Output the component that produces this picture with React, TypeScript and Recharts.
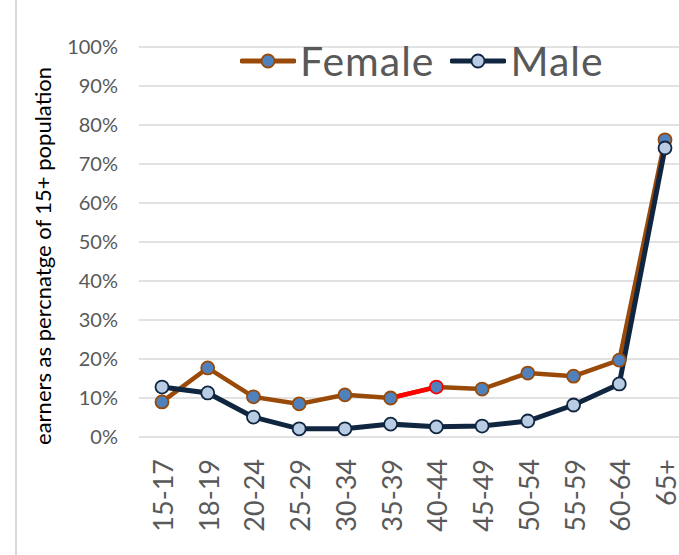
import { LineChart, Line, XAxis, YAxis, CartesianGrid } from 'recharts';

const categories = ['15-17', '18-19', '20-24', '25-29', '30-34', '35-39', '40-44', '45-49', '50-54', '55-59', '60-64', '65+'];
const femaleValues = [9.0, 17.7, 10.3, 8.5, 10.8, 10.0, 12.8, 12.3, 16.4, 15.6, 19.7, 76.2];
const maleValues = [12.8, 11.3, 5.1, 2.1, 2.1, 3.3, 2.6, 2.8, 4.1, 8.2, 13.6, 74.1];
// segment of the female line drawn in red
const highlightCategories = ['35-39', '40-44'];
const yTicks = [0, 10, 20, 30, 40, 50, 60, 70, 80, 90, 100];
const yTitle = 'earners as percnatge of 15+ population';

const FEMALE_LINE = '#9a4a08';
const FEMALE_DOT = '#4f81bd';
const MALE_LINE = '#10253f';
const MALE_DOT = '#b8cce4';
const HIGHLIGHT = '#ff0000';
const FONT = 'Lato, "Noto Sans", sans-serif';

const data = categories.map((cat, i) => ({
  cat,
  female: femaleValues[i],
  male: maleValues[i],
  femaleHi: highlightCategories.includes(cat) ? femaleValues[i] : null,
}));

function FemaleDot(props: any) {
  const { cx, cy, payload } = props;
  if (cx == null || cy == null) return null;
  const isEnd = payload.cat === highlightCategories[highlightCategories.length - 1];
  return (
    <circle cx={cx} cy={cy} r={6.5} fill={FEMALE_DOT} stroke={isEnd ? HIGHLIGHT : FEMALE_LINE} strokeWidth={1.8} />
  );
}

function XTick(props: any) {
  const { x, y, payload } = props;
  return (
    <text
      x={0}
      y={0}
      transform={`translate(${x + 11},${y + 20}) rotate(-90)`}
      textAnchor="end"
      fill="#595959"
      fontSize={27}
      fontFamily={FONT}
    >
      {payload.value}
    </text>
  );
}

function YTitle() {
  return (
    <text transform="translate(51,256) rotate(-90)" textAnchor="middle" fill="#000" fontSize={22} fontFamily={FONT}>
      {yTitle}
    </text>
  );
}

function LegendItem({ label, line, dot }: { label: string; line: string; dot: string }) {
  return (
    <div style={{ display: 'flex', alignItems: 'center' }}>
      <svg width={56} height={16}>
        <line x1={2} y1={8} x2={54} y2={8} stroke={line} strokeWidth={5} strokeLinecap="round" />
        <circle cx={28} cy={8} r={6.5} fill={dot} stroke={line} strokeWidth={1.8} />
      </svg>
      <span
        style={{ marginLeft: 4, fontSize: 41, letterSpacing: 1, color: '#595959', fontFamily: FONT, lineHeight: '40px' }}
      >
        {label}
      </span>
    </div>
  );
}

export default function App() {
  return (
    <div
      style={{
        position: 'fixed',
        left: 0,
        top: 0,
        width: 679,
        height: 555,
        overflow: 'hidden',
        background: '#fff',
      }}
    >
      <div style={{ position: 'absolute', left: 15, top: 0, width: 2, height: 555, background: '#d9d9d9' }} />
      <LineChart width={700} height={555} data={data} margin={{ top: 47, right: 12, left: 20, bottom: 0 }}>
        <CartesianGrid vertical={false} stroke="#d9d9d9" strokeWidth={1.5} />
        <XAxis
          dataKey="cat"
          axisLine={false}
          tickLine={false}
          tickSize={0}
          height={118}
          interval={0}
          padding={{ left: 23, right: 23 }}
          tick={<XTick />}
        />
        <YAxis
          domain={[0, 100]}
          ticks={yTicks}
          width={119}
          axisLine={false}
          tickLine={false}
          tickSize={0}
          tickMargin={21}
          tickFormatter={(v: number) => `${v}%`}
          tick={{ fill: '#595959', fontSize: 20, fontFamily: FONT }}
          label={{ content: <YTitle /> }}
        />
        <Line dataKey="female" stroke={FEMALE_LINE} strokeWidth={4.5} dot={false} isAnimationActive={false} />
        <Line dataKey="femaleHi" stroke={HIGHLIGHT} strokeWidth={4.5} dot={false} isAnimationActive={false} />
        <Line
          dataKey="female"
          stroke="none"
          dot={<FemaleDot />}
          activeDot={false}
          isAnimationActive={false}
        />
        <Line
          dataKey="male"
          stroke={MALE_LINE}
          strokeWidth={5}
          dot={{ r: 6.5, fill: MALE_DOT, stroke: MALE_LINE, strokeWidth: 1.8 }}
          isAnimationActive={false}
        />
      </LineChart>
      <div style={{ position: 'absolute', left: 240, top: 41, display: 'flex', gap: 16 }}>
        <LegendItem label="Female" line={FEMALE_LINE} dot={FEMALE_DOT} />
        <LegendItem label="Male" line={MALE_LINE} dot={MALE_DOT} />
      </div>
    </div>
  );
}
